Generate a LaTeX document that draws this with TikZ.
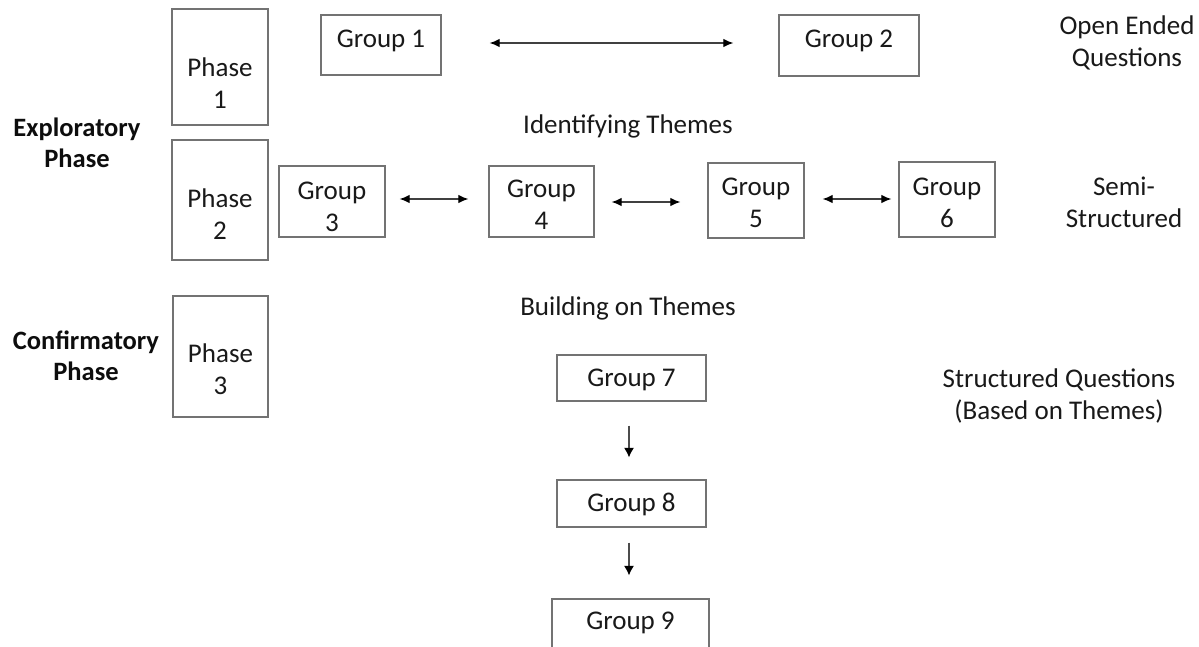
\documentclass[tikz,border=0pt]{standalone}
\usepackage{fontspec}
\setmainfont{Carlito}
\usetikzlibrary{arrows.meta}
\begin{document}
\begin{tikzpicture}[x=1pt,y=-1pt,
  box/.style={draw=black!55,line width=1.3pt,fill=white,inner sep=0pt},
  txt/.style={inner sep=0pt,align=center,font=\fontsize{27}{32}\selectfont,text=black!90},
  btxt/.style={inner sep=0pt,align=center,font=\fontsize{26.5}{31}\bfseries\selectfont,text=black!95},
  link/.style={line width=1.2pt,draw=black!75,{Latex[length=10pt,width=8.5pt,color=black]}-{Latex[length=10pt,width=8.5pt,color=black]}},
  flow/.style={line width=1.2pt,draw=black!70,-{Latex[length=9.5pt,width=10pt,color=black]}}]
\useasboundingbox (0,0) rectangle (1199,646);
\clip (0,0) rectangle (1199,646);
\fill[white] (0,0) rectangle (1199,646);

% phase boxes
\node[box,minimum width=96,minimum height=116] (p1) at (220,67) {};
\node[txt] (p1t) at (220,83) {Phase\\1};
\node[box,minimum width=96,minimum height=120] (p2) at (220,200) {};
\node[txt] (p2t) at (220,214) {Phase\\2};
\node[box,minimum width=95,minimum height=121] (p3) at (220.5,356.5) {};
\node[txt] (p3t) at (220.5,369) {Phase\\3};

% side labels
\node[btxt] (expl) at (77,143) {Exploratory\\Phase};
\node[btxt] (conf) at (86,356) {Confirmatory\\Phase};
\node[txt] (open) at (1127,43) {Open Ended\\Questions};
\node[txt] (semi) at (1124,202) {Semi-\\Structured};
\node[txt] (struc) at (1059,396) {Structured Questions\\(Based on Themes)};
\node[txt] (ident) at (628,126) {Identifying Themes};
\node[txt] (build) at (628,308) {Building on Themes};

% group boxes
\node[box,minimum width=120,minimum height=60] (g1) at (381,45) {};
\node[txt] (g1t) at (381,41) {Group 1};
\node[box,minimum width=140,minimum height=61] (g2) at (849,45.5) {};
\node[txt] (g2t) at (849,41) {Group 2};
\node[box,minimum width=106,minimum height=71] (g3) at (332,201.5) {};
\node[txt] (g3t) at (332,207) {Group\\3};
\node[box,minimum width=105,minimum height=71] (g4) at (541.5,201.5) {};
\node[txt] (g4t) at (541.5,205) {Group\\4};
\node[box,minimum width=96,minimum height=75] (g5) at (756,200.5) {};
\node[txt] (g5t) at (756,203) {Group\\5};
\node[box,minimum width=96,minimum height=75] (g6) at (947,199.5) {};
\node[txt] (g6t) at (947,203) {Group\\6};
\node[box,minimum width=149,minimum height=46] (g7) at (631.5,378) {};
\node[txt] (g7t) at (631.5,380) {Group 7};
\node[box,minimum width=149,minimum height=47] (g8) at (631.5,503.5) {};
\node[txt] (g8t) at (631.5,504.5) {Group 8};
\node[box,minimum width=157,minimum height=49] (g9) at (630.5,623.5) {};
\node[txt] (g9t) at (630.5,623) {Group 9};

% connectors
\draw[link] ([xshift=48pt,yshift=2pt]g1.east) -- ([xshift=-45pt,yshift=2.5pt]g2.west);
\draw[link] ([xshift=14pt,yshift=2.5pt]g3.east) -- ([xshift=-20pt,yshift=2.5pt]g4.west);
\draw[link] ([xshift=17pt,yshift=-0.5pt]g4.east) -- ([xshift=-27pt,yshift=-1.5pt]g5.west);
\draw[link] ([xshift=18pt,yshift=1.5pt]g5.east) -- ([xshift=-7pt,yshift=0.5pt]g6.west);
\draw[flow] ([xshift=-2.5pt,yshift=-24pt]g7.south) -- ([xshift=-2.5pt,yshift=22pt]g8.north);
\draw[flow] ([xshift=-2.5pt,yshift=-15pt]g8.south) -- ([xshift=-1.5pt,yshift=23pt]g9.north);
\end{tikzpicture}
\end{document}
